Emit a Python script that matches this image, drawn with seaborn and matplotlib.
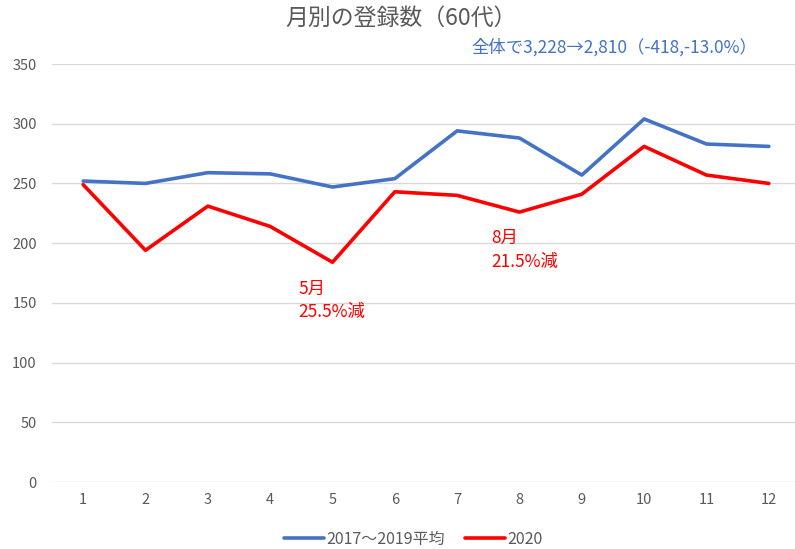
import pandas as pd
import seaborn as sns
import matplotlib.pyplot as plt

months = [1, 2, 3, 4, 5, 6, 7, 8, 9, 10, 11, 12]
avg_2017_2019 = [252, 250, 259, 258, 247, 254, 294, 288, 257, 304, 283, 281]
year_2020 = [249, 194, 231, 214, 184, 243, 240, 226, 241, 281, 257, 250]
series_names = ["2017～2019平均", "2020"]
y_ticks = [0, 50, 100, 150, 200, 250, 300, 350]

df = pd.DataFrame({
    "month": months * 2,
    "count": avg_2017_2019 + year_2020,
    "series": [series_names[0]] * 12 + [series_names[1]] * 12,
})

sns.set_theme(style="white")
plt.rcParams["font.family"] = ["Noto Sans CJK JP", "DejaVu Sans"]

fig = plt.figure(figsize=(7.95, 5.49), dpi=100)
ax = fig.add_axes([52 / 795, 1 - 482 / 549, 1 - 52 / 795, (482 - 64) / 549])

sns.lineplot(data=df, x="month", y="count", hue="series",
             palette=["#4472C4", "#FF0000"], linewidth=2.6, ax=ax,
             legend=False)

ax.set_xlim(0.5, 12.42)
ax.set_ylim(0, 350)
ax.set_xticks(months)
ax.set_yticks(y_ticks)
ax.yaxis.grid(True, color="#D9D9D9", linewidth=1)
ax.set_axisbelow(True)
for s in ax.spines.values():
    s.set_visible(False)
ax.tick_params(axis="both", length=0, labelsize=10.5, colors="#595959")
ax.tick_params(axis="y", pad=11)
ax.tick_params(axis="x", pad=8)
ax.set_xlabel("")
ax.set_ylabel("")

fig.text(0.505, 1 - 18 / 549, "月別の登録数（60代）", ha="center", va="center",
         fontsize=16.5, color="#595959")
fig.text(757 / 795, 1 - 47 / 549, "全体で3,228→2,810（-418,-13.0%）",
         ha="right", va="center", fontsize=12.5, color="#4472C4")

# annotations for the largest drops
for x, y1, y2, t1, t2 in [(4.45, 162, 142, "5月", "25.5%減"),
                          (7.54, 204, 184, "8月", "21.5%減")]:
    ax.text(x, y1, t1, color="#FF0000", fontsize=12.5, ha="left", va="center")
    ax.text(x, y2, t2, color="#FF0000", fontsize=12.5, ha="left", va="center")

handles = [plt.Line2D([], [], color="#4472C4", linewidth=2.6),
           plt.Line2D([], [], color="#FF0000", linewidth=2.6)]
fig.legend(handles, series_names, loc="center", bbox_to_anchor=(0.52, 1 - 539 / 549),
           ncol=2, frameon=False, fontsize=11.5, handlelength=2.5,
           handletextpad=0.15, columnspacing=1.3, labelcolor="#595959")

fig.savefig("out.png", dpi=100)
